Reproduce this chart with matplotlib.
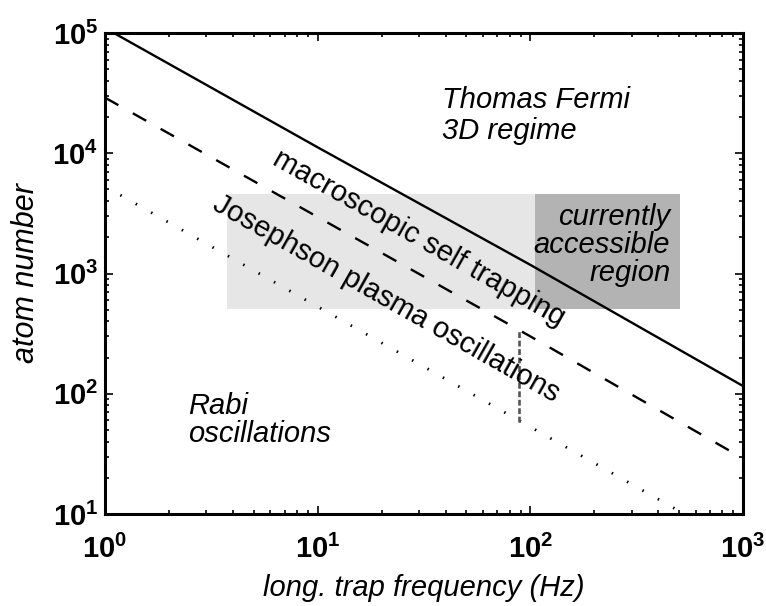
import numpy as np
import matplotlib
matplotlib.use("Agg")
import matplotlib.pyplot as plt
from matplotlib.patches import Rectangle
from matplotlib.ticker import FuncFormatter, LogLocator, NullFormatter

# ---- data ----
freq_solid = [1.0, 10.0, 100.0, 1000.0]
atoms_solid = [1.1e5, 1.12e4, 1.18e3, 116.0]

freq_dashed = [1.0, 10.0, 100.0, 1000.0]
atoms_dashed = [2.9e4, 2.95e3, 300.0, 29.0]

freq_dotted = [1.0, 10.0, 100.0, 510.0]
atoms_dotted = [5300.0, 530.0, 53.0, 10.4]

marker_freq = [88.0, 88.0]
marker_atoms = [58.0, 330.0]

light_region_freq = [3.75, 105.0]
dark_region_freq = [105.0, 505.0]
region_atoms = [510.0, 4600.0]

xlim = [1, 1000]
ylim = [10, 1e5]

plt.rcParams['font.family'] = ['Liberation Sans', 'DejaVu Sans']
plt.rcParams['mathtext.fontset'] = 'custom'
plt.rcParams['mathtext.bf'] = 'Liberation Sans:bold'
plt.rcParams['mathtext.rm'] = 'Liberation Sans:bold'
plt.rcParams['mathtext.default'] = 'bf'

fig = plt.figure(figsize=(7.66, 6.06), dpi=100)
ax = fig.add_axes([105/766, 1 - 514/606, 638/766, 481/606])
ax.set_xscale('log')
ax.set_yscale('log')
ax.set_xlim(xlim)
ax.set_ylim(ylim)

ax.add_patch(Rectangle((light_region_freq[0], region_atoms[0]),
                       light_region_freq[1] - light_region_freq[0],
                       region_atoms[1] - region_atoms[0],
                       facecolor='#e6e6e6', edgecolor='none', zorder=0))
ax.add_patch(Rectangle((dark_region_freq[0], region_atoms[0]),
                       dark_region_freq[1] - dark_region_freq[0],
                       region_atoms[1] - region_atoms[0],
                       facecolor='#b3b3b3', edgecolor='none', zorder=0))

ax.plot(freq_solid, atoms_solid, color='black', lw=1.7, zorder=2)
ax.plot(freq_dashed, atoms_dashed, color='black', lw=1.7,
        linestyle=(0, (6.5, 7)), zorder=2)
ax.plot(freq_dotted, atoms_dotted, color='black', lw=2.0,
        linestyle=(0, (0.55, 5.8)), zorder=2)
ax.plot(marker_freq, marker_atoms, color='#555555', lw=1.9,
        linestyle=(0, (2.2, 1.0)), zorder=2)

# ticks
ax.xaxis.set_major_locator(LogLocator(base=10, numticks=10))
ax.yaxis.set_major_locator(LogLocator(base=10, numticks=10))
ax.xaxis.set_minor_locator(LogLocator(base=10, subs=np.arange(2, 10), numticks=20))
ax.yaxis.set_minor_locator(LogLocator(base=10, subs=np.arange(2, 10), numticks=20))
fmt = FuncFormatter(lambda v, p: r'$10^{%d}$' % int(round(np.log10(v))))
ax.xaxis.set_major_formatter(fmt)
ax.yaxis.set_major_formatter(fmt)
ax.xaxis.set_minor_formatter(NullFormatter())
ax.yaxis.set_minor_formatter(NullFormatter())
ax.tick_params(which='both', direction='in', top=True, right=True, width=1.2)
ax.tick_params(which='major', length=6, labelsize=21)
ax.tick_params(axis='x', which='major', pad=15)
ax.tick_params(axis='y', which='major', pad=5)
ax.tick_params(which='minor', length=3)
for s in ax.spines.values():
    s.set_linewidth(2.2)

ax.set_xlabel('long. trap frequency (Hz)', fontsize=21, style='italic', labelpad=7)
ax.set_ylabel('atom number', fontsize=22, style='italic', labelpad=8)

# texts (va='baseline' aligns the last line's baseline)
tfs = 21
ax.text(0.528, 0.780, 'Thomas Fermi\n3D regime', transform=ax.transAxes,
        fontsize=tfs, style='italic', ha='left', va='baseline', linespacing=1.12)
ax.text(0.130, 0.150, 'Rabi\noscillations', transform=ax.transAxes,
        fontsize=tfs, style='italic', ha='left', va='baseline', linespacing=0.98)
ax.text(0.886, 0.484, 'currently\naccessible\nregion', transform=ax.transAxes,
        fontsize=tfs, style='italic', ha='right', va='baseline', linespacing=1.0,
        multialignment='right')

bb = ax.get_position()
w_px = bb.width * fig.get_figwidth() * fig.dpi
h_px = bb.height * fig.get_figheight() * fig.dpi
ang = -np.degrees(np.arctan((h_px / 4) / (w_px / 3)))
ax.text(0.260, 0.728, 'macroscopic self trapping', transform=ax.transAxes,
        fontsize=tfs, ha='left', va='baseline', rotation=ang,
        rotation_mode='anchor')
ax.text(0.166, 0.634, 'Josephson plasma oscillations', transform=ax.transAxes,
        fontsize=tfs, ha='left', va='baseline', rotation=ang,
        rotation_mode='anchor')

fig.savefig('out.png', dpi=100)
